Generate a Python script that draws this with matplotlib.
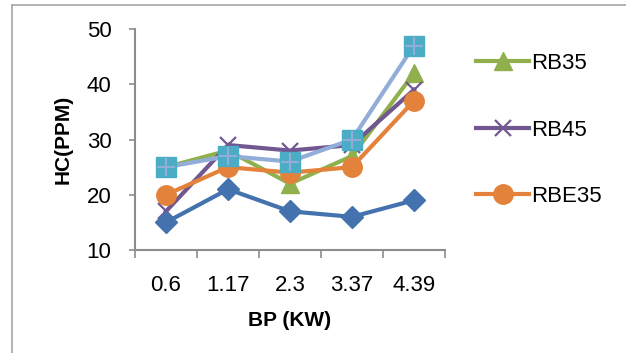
import matplotlib
matplotlib.use('Agg')
import matplotlib.pyplot as plt
from matplotlib.lines import Line2D

plt.rcParams['font.family'] = ['Liberation Sans', 'DejaVu Sans']

# data
bp = ['0.6', '1.17', '2.3', '3.37', '4.39']
diesel = [15, 21, 17, 16, 19]
rb35 = [25, 28, 22, 27, 42]
rb45 = [17, 29, 28, 29, 39]
rbe35 = [20, 25, 24, 25, 37]
rbe45 = [25, 27, 26, 30, 47]

blue = '#4372AE'
green = '#8FB04C'
purple = '#71578F'
orange = '#E3823A'
aqua = '#4BACC6'
lightblue = '#92AED8'
gray = '#8C8C8C'

fig = plt.figure(figsize=(6.26, 3.53), dpi=100)
ax = fig.add_axes([135/626, 1-250/353, 310/626, 221/353])
x = list(range(len(bp)))

l_rb35, = ax.plot(x, rb35, color=green, lw=3, marker='^', ms=13, zorder=3)
l_rb45, = ax.plot(x, rb45, color=purple, lw=3, marker='x', ms=11, mew=1.6, zorder=4)
l_rbe35, = ax.plot(x, rbe35, color=orange, lw=3, marker='o', ms=14, zorder=5)
ax.plot(x, diesel, color=blue, lw=3, marker='D', ms=11, zorder=6)
ax.plot(x, rbe45, color=lightblue, lw=3, marker='s', ms=14, mfc=aqua, mec=aqua, zorder=7)
ax.plot(x, rbe45, ls='none', marker='+', ms=13, mew=1.5, color=lightblue, zorder=8)

ax.set_xlim(-0.5, len(bp) - 0.5)
ax.set_ylim(10, 50)
ax.set_yticks([10, 20, 30, 40, 50])
ax.set_xticks(x)
ax.set_xticklabels(bp)
ax.set_xticks([i - 0.5 for i in range(len(bp) + 1)], minor=True)
ax.tick_params(axis='x', which='major', length=0, pad=18, labelsize=16)
ax.tick_params(axis='x', which='minor', length=6, width=1.2, color=gray, direction='out')
ax.tick_params(axis='y', length=4, width=1.2, color=gray, pad=13, labelsize=16)

for s in ['top', 'right']:
    ax.spines[s].set_visible(False)
for s in ['left', 'bottom']:
    ax.spines[s].set_color(gray)
    ax.spines[s].set_linewidth(1.5)

ax.set_xlabel('BP (KW)', fontsize=15, fontweight='bold', labelpad=11)
ax.set_ylabel('HC(PPM)', fontsize=15, fontweight='bold', labelpad=10)

ax.legend([l_rb35, l_rb45, l_rbe35], ['RB35', 'RB45', 'RBE35'],
          loc='upper left', bbox_to_anchor=(476/626, 1-53/353),
          bbox_transform=fig.transFigure, frameon=False, fontsize=16,
          handlelength=2.4, handletextpad=0.1, labelspacing=2.05,
          borderpad=0, borderaxespad=0)

# chart frame (only top and left edges visible)
fig.add_artist(Line2D([12/626, 12/626], [0, 1-5/353], color='#A6A6A6', lw=1.2))
fig.add_artist(Line2D([12/626, 1], [1-5/353, 1-5/353], color='#A6A6A6', lw=1.2))

fig.savefig('out.png', dpi=100)
